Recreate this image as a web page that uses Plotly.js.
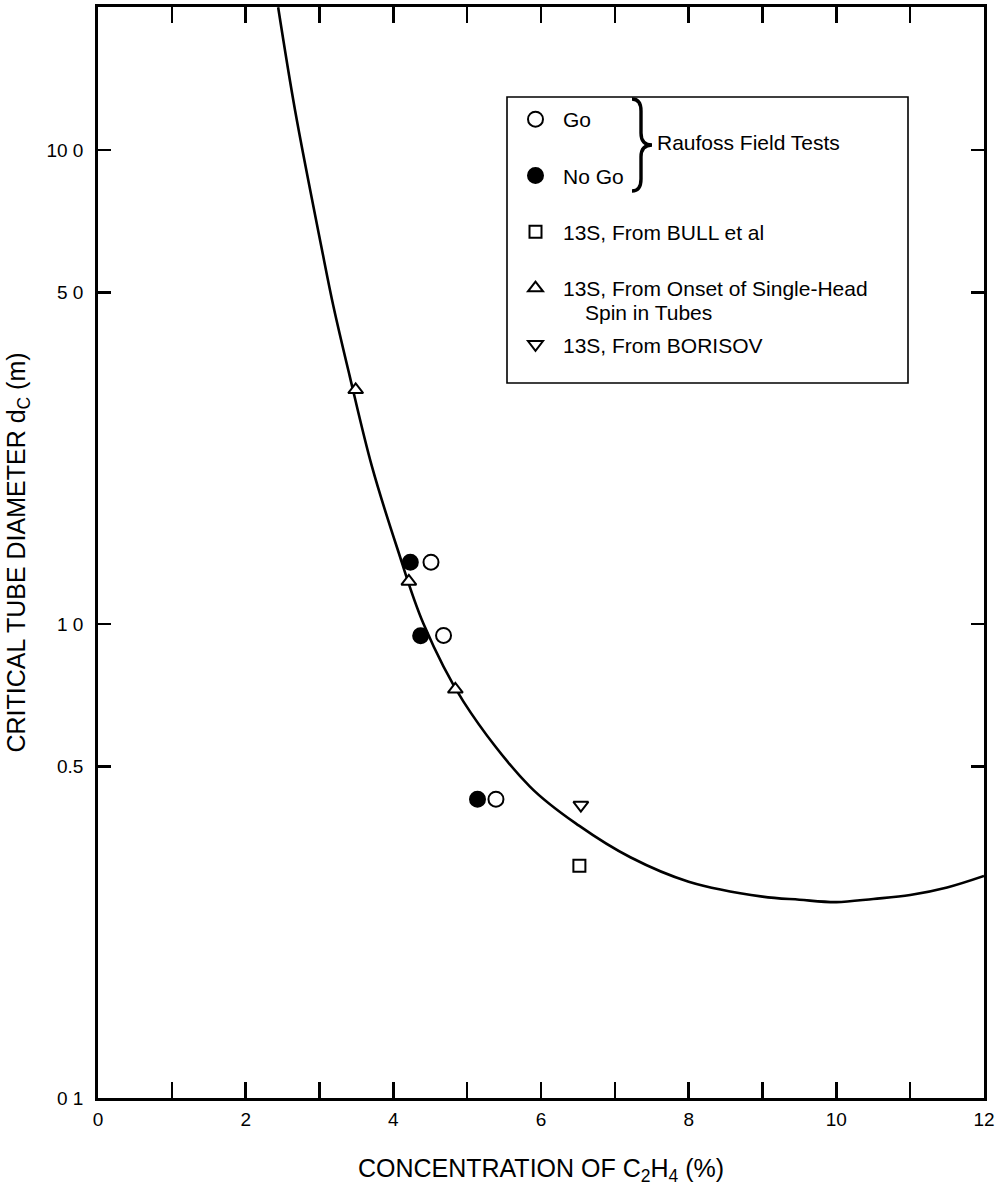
<!DOCTYPE html>
<html>
<head>
<meta charset="utf-8">
<script src="https://cdn.plot.ly/plotly-3.0.1.min.js"></script>
<style>
html,body{margin:0;padding:0;background:#fff;}
#chart{width:1001px;height:1190px;}
</style>
</head>
<body>
<div id="chart"></div>
<script>
// ---- data ----
var curveX = [2.44, 2.67, 3.03, 3.19, 3.41, 3.71, 4.05, 4.41, 4.95, 5.85, 6.52, 7.21, 8.0, 9.0, 9.5, 10.0, 10.5, 11.0, 11.5, 12.0];
var curveY = [20.0, 12.1, 6.2, 4.67, 3.33, 2.15, 1.45, 1.00, 0.686, 0.454, 0.375, 0.322, 0.286, 0.266, 0.262, 0.259, 0.263, 0.268, 0.278, 0.294];

var goX = [4.51, 4.68, 5.39];
var goY = [1.35, 0.946, 0.427];
var noGoX = [4.23, 4.37, 5.14];
var noGoY = [1.35, 0.945, 0.427];
var bullX = [6.52];
var bullY = [0.309];
var onsetX = [3.49, 4.21, 4.84];
var onsetY = [3.12, 1.23, 0.728];
var borisovX = [6.54];
var borisovY = [0.415];

var xTickVals = [0, 2, 4, 6, 8, 10, 12];
var xTickText = ["0", "2", "4", "6", "8", "10", "12"];
var yTickVals = [0.1, 0.5, 1, 5, 10];
var yTickText = ["0 1", "0.5", "1 0", "5 0", "10 0"];

var seriesNames = ["Go", "No Go", "13S, From BULL et al", "13S, From Onset of Single-Head", "13S, From BORISOV"];

// ---- figure ----
var FONT = "Liberation Sans, Arial, Helvetica, sans-serif";
var mk = function(sym, size, fill){
  return {symbol: sym, size: size, color: fill, line: {color: "#000", width: 2}};
};

var traces = [
  {x: curveX, y: curveY, mode: "lines", type: "scatter", showlegend: false,
   line: {color: "#000", width: 2.6, shape: "spline", smoothing: 1}, hoverinfo: "skip"},
  {x: goX, y: goY, name: seriesNames[0], legendgroup: "a", mode: "markers", type: "scatter", marker: mk("circle", 15, "#fff")},
  {x: noGoX, y: noGoY, name: seriesNames[1], legendgroup: "b", mode: "markers", type: "scatter", marker: mk("circle", 15, "#000")},
  {x: bullX, y: bullY, name: seriesNames[2], legendgroup: "c", mode: "markers", type: "scatter", marker: mk("square", 12, "#fff")},
  {x: onsetX, y: onsetY, name: seriesNames[3], legendgroup: "d", mode: "markers", type: "scatter", marker: mk("triangle-up", 13, "#fff")},
  {x: borisovX, y: borisovY, name: seriesNames[4], legendgroup: "e", mode: "markers", type: "scatter", marker: mk("triangle-down", 13, "#fff")}
];

// plot area pixel geometry
var L = 98, R = 984, T = 7, B = 1098, W = 1001, H = 1190;
function px(xp){ return (xp - L) / (R - L); }
function py(yp){ return (B - yp) / (B - T); }

var layout = {
  width: W, height: H,
  margin: {l: L, r: W - R, t: T, b: H - B, pad: 0},
  paper_bgcolor: "#fff", plot_bgcolor: "#fff",
  font: {family: FONT, color: "#000", size: 19},
  showlegend: true,
  xaxis: {
    range: [0, 12], tickmode: "array", tickvals: xTickVals, ticktext: xTickText,
    ticks: "inside", ticklen: 16, tickwidth: 2.5, tickcolor: "#000",
    minor: {dtick: 1, ticks: "inside", ticklen: 16, tickwidth: 2.5, tickcolor: "#000", showgrid: false},
    showline: true, linewidth: 2.8, linecolor: "#000", mirror: "ticks",
    showgrid: false, zeroline: false, automargin: false,
    tickfont: {size: 19, family: FONT}, ticklabelstandoff: 2,
    title: {text: "CONCENTRATION OF C<sub>2</sub>H<sub>4</sub> (%)", font: {size: 25, family: FONT}, standoff: 31}
  },
  yaxis: {
    type: "log", range: [-1, Math.log10(20.03)], tickmode: "array", tickvals: yTickVals, ticktext: yTickText,
    ticks: "inside", ticklen: 13, tickwidth: 2.5, tickcolor: "#000",
    showline: true, linewidth: 2.8, linecolor: "#000", mirror: "ticks",
    showgrid: false, zeroline: false, automargin: false,
    tickfont: {size: 19, family: FONT}, ticklabelstandoff: 8,
    title: {text: "CRITICAL TUBE DIAMETER d<sub>C</sub> (m)", font: {size: 25, family: FONT}, standoff: 14}
  },
  legend: {
    x: px(508), y: py(99), xanchor: "left", yanchor: "top",
    bgcolor: "rgba(0,0,0,0)", borderwidth: 0,
    font: {size: 21, family: FONT, color: "#000"},
    tracegroupgap: 26, itemwidth: 45
  },
  shapes: [
    {type: "rect", xref: "paper", yref: "paper", x0: px(507), x1: px(908), y0: py(383), y1: py(97),
     line: {color: "#000", width: 1.6}, fillcolor: "rgba(0,0,0,0)"},
    {type: "path", xref: "paper", yref: "paper", xsizemode: "pixel", ysizemode: "pixel",
     xanchor: px(652), yanchor: py(145),
     path: "M -20 -46 Q -11 -46 -11 -34 L -11 -12 Q -11 0 0 0 Q -11 0 -11 12 L -11 34 Q -11 46 -20 46",
     line: {color: "#000", width: 3.4}}
  ],
  annotations: [
    {xref: "paper", yref: "paper", x: px(655), y: py(142), xanchor: "left", yanchor: "middle",
     text: "Raufoss Field Tests", showarrow: false, font: {size: 21, family: FONT, color: "#000"}},
    {xref: "paper", yref: "paper", x: px(583), y: py(312), xanchor: "left", yanchor: "middle",
     text: "Spin in Tubes", showarrow: false, font: {size: 21, family: FONT, color: "#000"}}
  ]
};

Plotly.newPlot("chart", traces, layout, {displayModeBar: false, staticPlot: true});
</script>
</body>
</html>
